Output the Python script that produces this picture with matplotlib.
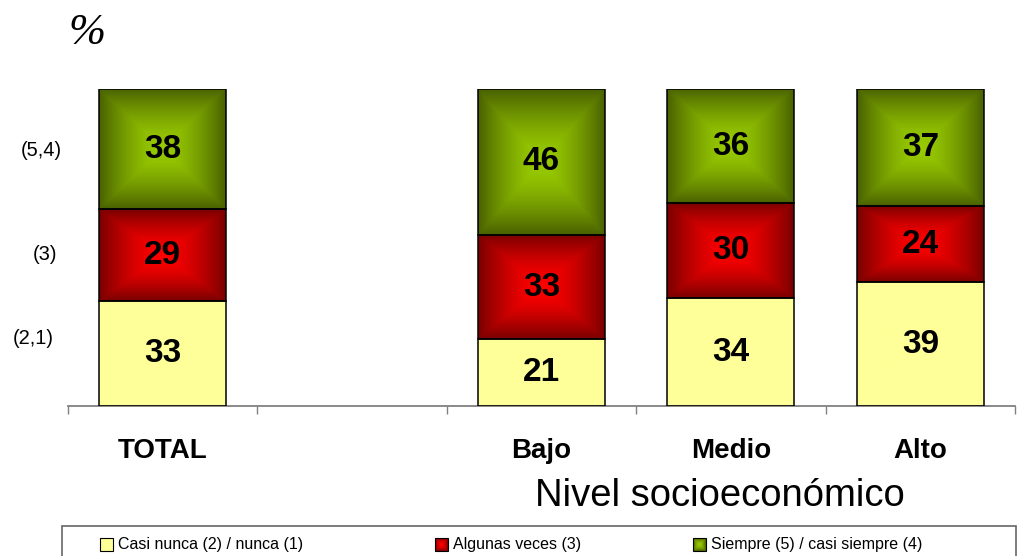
import numpy as np
import matplotlib
matplotlib.use("Agg")
import matplotlib.pyplot as plt
from matplotlib.patches import Rectangle

# datos
grupos = ["TOTAL", "", "Bajo", "Medio", "Alto"]
casi_nunca = [33, None, 21, 34, 39]
algunas_veces = [29, None, 33, 30, 24]
siempre = [38, None, 46, 36, 37]
series_nombres = ["Casi nunca (2) / nunca (1)", "Algunas veces (3)", "Siempre (5) / casi siempre (4)"]
etiquetas_izq = ["(5,4)", "(3)", "(2,1)"]

plt.rcParams['font.family'] = ['Liberation Sans', 'DejaVu Sans']

# colores (centro, borde) para relleno degradado desde el centro
colores = [
    ("#ffff99", "#ffff99"),
    ("#ff0000", "#7a0000"),
    ("#99cc00", "#4a6200"),
]


def degradado(ax, x0, x1, y0, y1, c_centro, c_borde, z=2):
    n = 120
    u = np.linspace(-1, 1, n)
    U, V = np.meshgrid(u, u)
    t = (np.maximum(np.abs(U), np.abs(V)) ** 1.5)[..., None]
    a = np.array(matplotlib.colors.to_rgb(c_centro))
    b = np.array(matplotlib.colors.to_rgb(c_borde))
    img = a * (1 - t) + b * t
    ax.imshow(img, extent=(x0, x1, y0, y1), aspect='auto',
              interpolation='bilinear', zorder=z, origin='lower')


fig = plt.figure(figsize=(10.19, 5.56), dpi=100)
ax = fig.add_axes([68 / 1019, 150 / 556, 947 / 1019, 317 / 556])

ancho = 0.67
datos = [casi_nunca, algunas_veces, siempre]
for i, g in enumerate(grupos):
    if casi_nunca[i] is None:
        continue
    xc = i + 0.5
    base = 0
    for s, serie in enumerate(datos):
        v = serie[i]
        degradado(ax, xc - ancho / 2, xc + ancho / 2, base, base + v, *colores[s])
        ax.add_patch(Rectangle((xc - ancho / 2, base), ancho, v, facecolor='none',
                               edgecolor='black', linewidth=1.1, zorder=3))
        ax.text(xc, base + v / 2, str(v), ha='center', va='center',
                fontsize=24, fontweight='bold', zorder=4)
        base += v

ax.set_xlim(0, 5)
ax.set_ylim(0, 100)
for lado in ['left', 'right', 'top']:
    ax.spines[lado].set_visible(False)
ax.spines['bottom'].set_color('#808080')
ax.spines['bottom'].set_linewidth(1.3)
ax.set_yticks([])
ax.set_xticks(range(6))
ax.set_xticklabels([])
ax.tick_params(axis='x', which='major', direction='out', length=6, width=1, color='#808080')
ax.set_xticks([i + 0.5 for i in range(5)], minor=True)
ax.set_xticklabels(grupos, minor=True, fontsize=20, fontweight='bold')
ax.tick_params(axis='x', which='minor', length=0, pad=23)

# textos de la figura
fig.text(87 / 1019, 1 - 33 / 556, "%", fontsize=32, style='italic',
         family='Liberation Serif', ha='center', va='center')
fig.text(720 / 1019, 1 - 496 / 556, "Nivel socioeconómico", fontsize=27.5,
         ha='center', va='center')
for txt, (x, y) in zip(etiquetas_izq, [(41, 151), (45, 255), (33, 338)]):
    fig.text(x / 1019, 1 - y / 556, txt, fontsize=14.5, ha='center', va='center')

# leyenda dibujada a mano
lay = fig.add_axes([0, 0, 1, 1], zorder=5)
lay.set_xlim(0, 1019)
lay.set_ylim(556, 0)
lay.axis('off')
lay.add_patch(Rectangle((62, 526), 954, 40, facecolor='white', edgecolor='#666666',
                        linewidth=1.2, zorder=1))
for (x_sw, nombre), (c1, c2) in zip([(100, series_nombres[0]), (435, series_nombres[1]),
                                     (693, series_nombres[2])], colores):
    degradado(lay, x_sw, x_sw + 13, 551, 538, c1, c2, z=2)
    lay.add_patch(Rectangle((x_sw, 538), 13, 13, facecolor='none', edgecolor='black',
                            linewidth=0.8, zorder=3))
    lay.text(x_sw + 18, 544, nombre, fontsize=11.5, ha='left', va='center', zorder=3)
lay.set_xlim(0, 1019)
lay.set_ylim(556, 0)

fig.savefig("out.png", dpi=100)
